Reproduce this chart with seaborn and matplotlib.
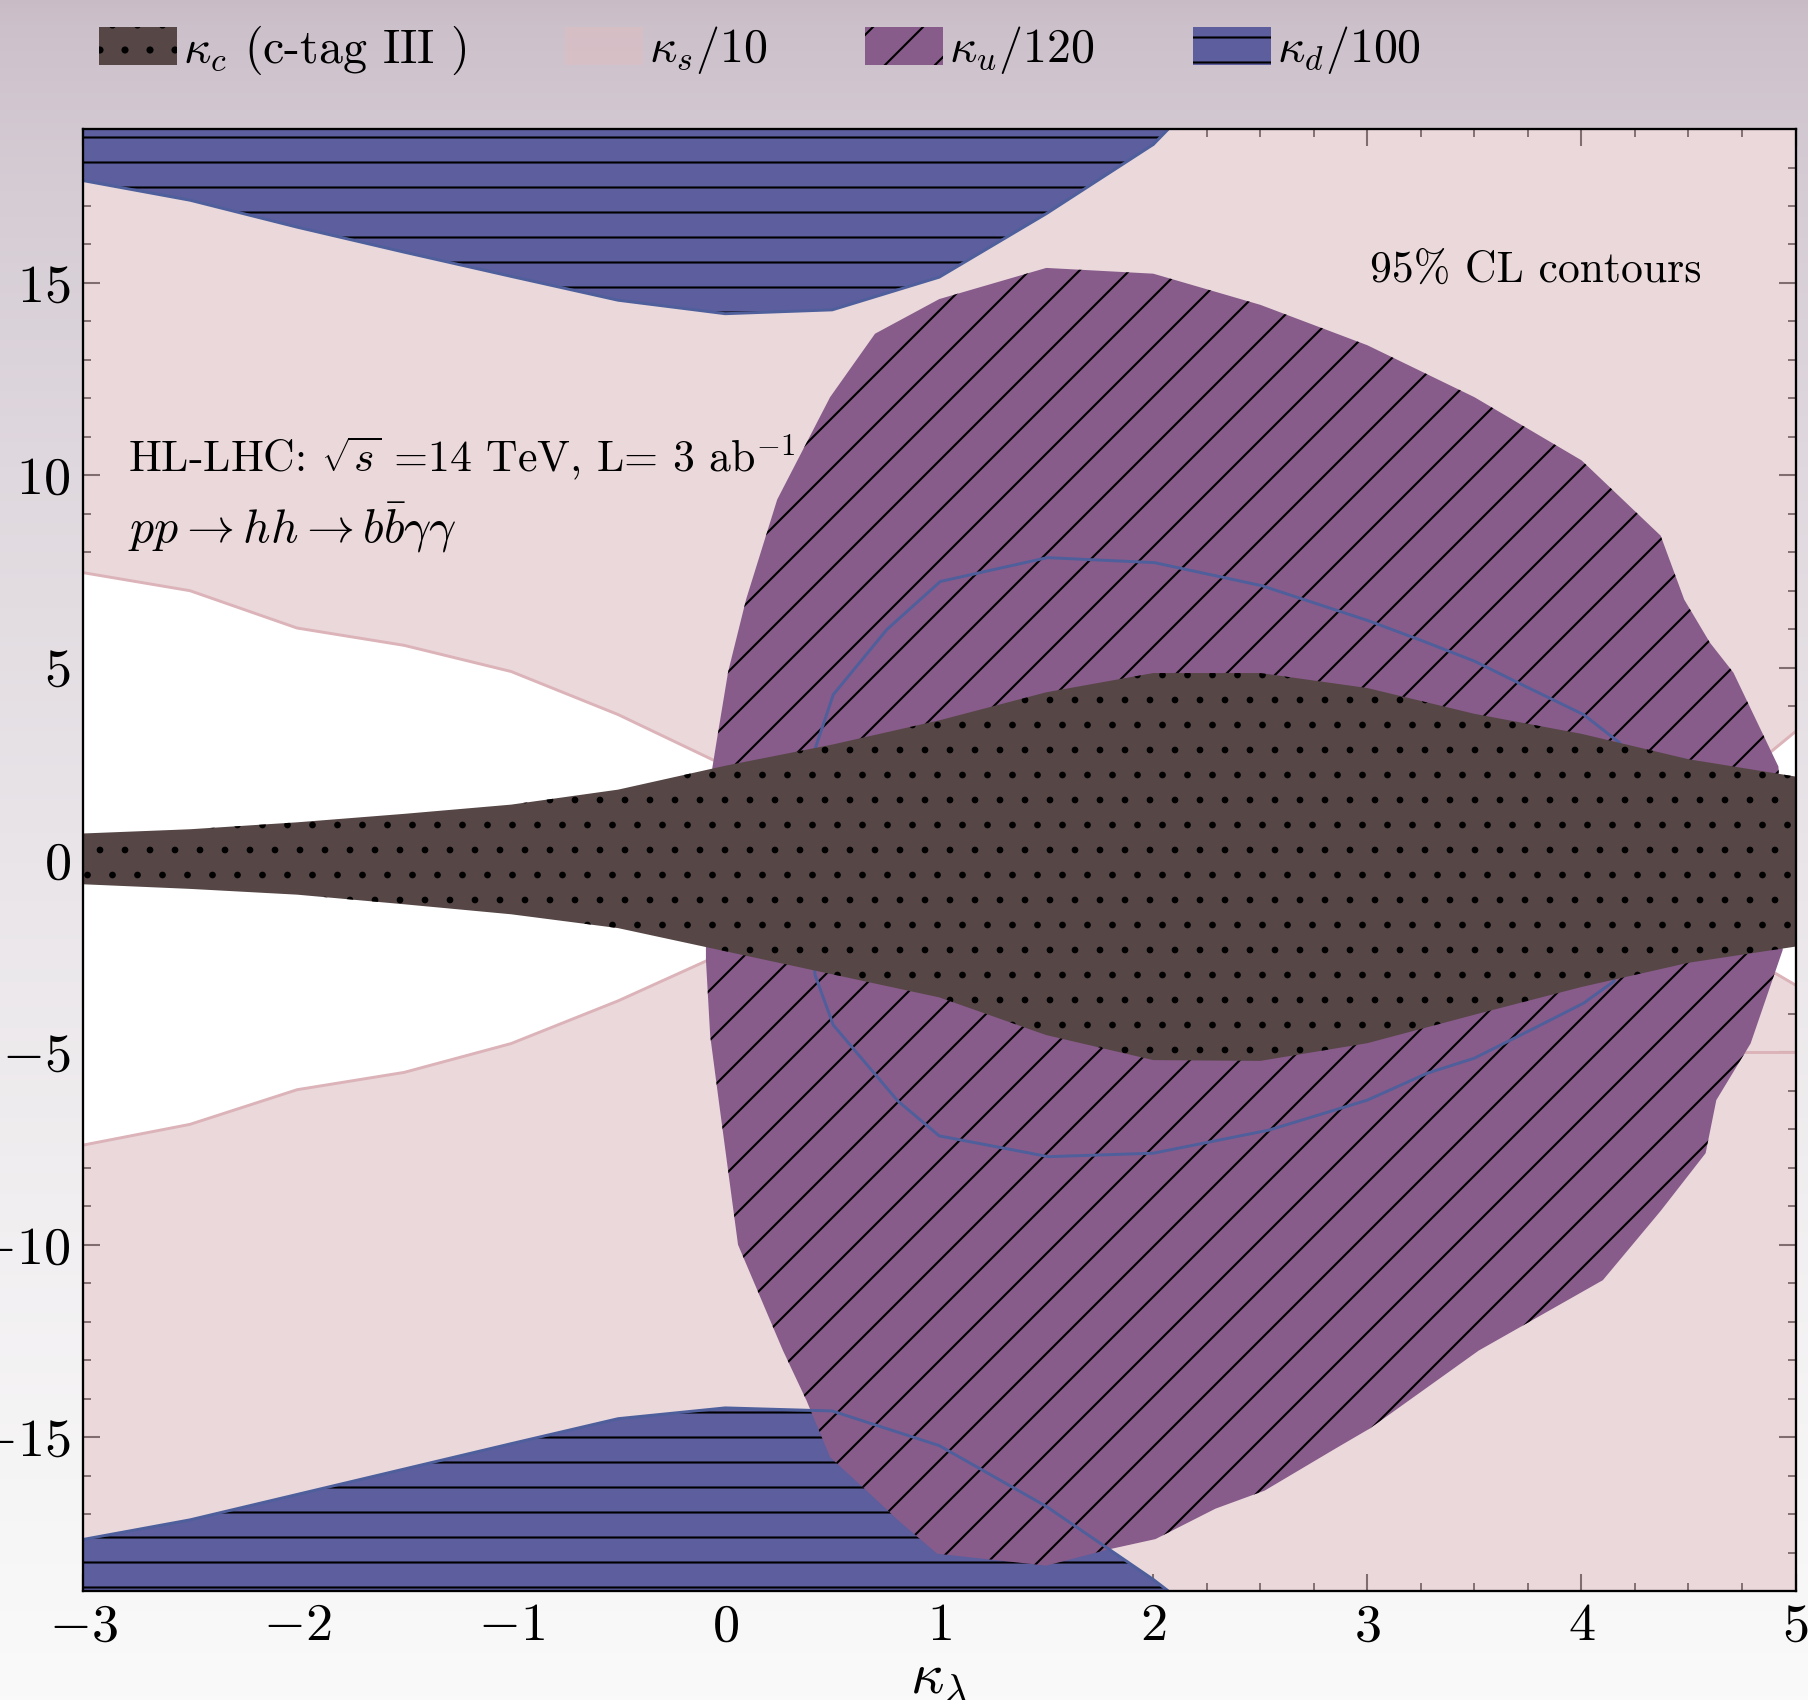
import numpy as np
import pandas as pd
import matplotlib
matplotlib.use("Agg")
import matplotlib.pyplot as plt
import matplotlib.ticker as ticker
import seaborn as sns

# values (x = kappa_lambda, y = coupling ratio)

# kappa_c (c-tag III) band
kc_x = [-3, -2.5, -2, -1.5, -1, -0.5, 0, 0.5, 1, 1.5, 2, 2.5, 3, 3.5, 4, 4.5, 5]
kc_upper = [0.69, 0.8, 0.98, 1.2, 1.44, 1.83, 2.45, 3.0, 3.63, 4.36, 4.86, 4.86, 4.47, 3.8, 3.28, 2.62, 2.17]
kc_lower = [-0.63, -0.75, -0.9, -1.15, -1.41, -1.77, -2.37, -2.97, -3.57, -4.55, -5.2, -5.22, -4.76, -4.02, -3.3, -2.67, -2.25]

# kappa_s/10 allowed everywhere except two holes
ks_x = [-3, 5]
ks_lo = [-19, -19]
ks_hi = [19, 19]
ks_hole_l_x = [-3, -2.5, -2, -1.5, -1, -0.5, 0, 0.4]
ks_hole_l_up = [7.47, 7.0, 6.03, 5.58, 4.9, 3.78, 2.45, 0.8]
ks_hole_l_lo = [-7.41, -6.87, -5.97, -5.52, -4.77, -3.66, -2.4, -0.8]
ks_hole_r_x = [4.6, 4.88, 5.0]
ks_hole_r_up = [1.6, 2.79, 3.34]
ks_hole_r_lo = [-1.6, -2.86, -3.25]
ks_seg_x = [4.76, 5.0]
ks_seg_y = [-5.0, -5.0]

# kappa_u/120 region (closed contour)
ku_x = [-0.09, -0.06, -0.037, 0.014, 0.098, 0.243, 0.49, 0.7, 1.0, 1.5, 2.0, 2.5, 3.0, 3.5,
        4.0, 4.37, 4.48, 4.6, 4.71, 4.92, 4.95, 4.94, 4.79, 4.63, 4.58, 4.37, 4.1, 3.52,
        3.01, 2.85, 2.52, 2.29, 2.01, 1.79, 1.5, 0.99, 0.81, 0.66, 0.49, 0.38, 0.27, 0.06,
        -0.03, -0.07, -0.09]
ku_y = [0, 2.4, 3.19, 4.9, 6.78, 9.37, 12.03, 13.68, 14.58, 15.39, 15.24, 14.43, 13.38, 12.03,
        10.39, 8.43, 6.77, 5.65, 4.87, 2.43, 0, -2.34, -4.77, -6.24, -7.62, -9.12, -10.92, -12.75,
        -14.78, -15.3, -16.39, -16.86, -17.65, -17.92, -18.34, -18.03, -17.17, -16.39, -15.52, -14.05, -12.75, -10.0,
        -6.26, -4.57, -2.59]

# kappa_d/100 regions (top and bottom) plus an inner contour line
kd_x = [-3, -2.5, -2, -1.5, -1, -0.5, 0, 0.5, 1, 1.5, 2, 2.07]
kd_top_edge = [17.66, 17.15, 16.45, 15.8, 15.17, 14.55, 14.2, 14.3, 15.15, 16.8, 18.6, 19.0]
kd_bot_edge = [-17.66, -17.15, -16.49, -15.83, -15.17, -14.52, -14.24, -14.32, -15.22, -16.8, -18.7, -19.0]
kd_loop_x = [0.38, 0.42, 0.505, 0.755, 1.005, 1.505, 2.005, 2.507, 3.01, 3.26, 3.5, 3.74, 4.01, 4.18, 4.35,
             4.15, 4.01, 3.78, 3.5, 3.28, 3.0, 2.54, 2.0, 1.51, 1.0, 0.806, 0.505, 0.42, 0.38]
kd_loop_y = [0, 2.89, 4.3, 5.99, 7.24, 7.86, 7.73, 7.13, 6.21, 5.69, 5.17, 4.51, 3.78, 3.04, 0,
             -3.16, -3.72, -4.37, -5.15, -5.54, -6.24, -7.02, -7.62, -7.71, -7.17, -6.26, -4.29, -2.99, 0]

labels = [r"$\kappa_c$ (c-tag III )", r"$\kappa_s/10$", r"$\kappa_u/120$", r"$\kappa_d/100$"]

brown = "#564646"
pink = "#dcbdc1"
pink_line = "#dbb3b8"
purple = "#875b8a"
blue = "#5c5e9e"
blue_line = "#4e5f9c"


def lines_df(segments):
    rows = []
    for i, (xs, ys) in enumerate(segments):
        for xv, yv in zip(xs, ys):
            rows.append({"x": xv, "y": yv, "seg": i})
    return pd.DataFrame(rows)


sns.set_theme(style="ticks")
plt.rcParams["font.family"] = ["cmr10"]
plt.rcParams["mathtext.fontset"] = "cm"
plt.rcParams["axes.formatter.use_mathtext"] = True
plt.rcParams["hatch.linewidth"] = 1.0
plt.rcParams["hatch.color"] = "black"
for k in ["text.color", "axes.labelcolor", "xtick.color", "ytick.color", "axes.edgecolor"]:
    plt.rcParams[k] = "black"

fig = plt.figure(figsize=(1808 / 150, 1700 / 150), dpi=150)

# soft vertical gradient behind the figure
bg = fig.add_axes([0, 0, 1, 1], zorder=-10)
t = np.linspace(0, 1, 400)[:, None] ** 0.6
top_c = np.array([200, 187, 198]) / 255
bot_c = np.array([250, 250, 250]) / 255
bg.imshow(top_c + (bot_c - top_c) * t[..., None], aspect="auto", extent=[0, 1, 0, 1], origin="upper")
bg.axis("off")

ax = fig.add_axes([0.0459, 0.0641, 0.9472, 0.86])
ax.set_facecolor("white")

# kappa_s
h_s = ax.fill_between(ks_x, ks_lo, ks_hi, color=pink, alpha=0.58, lw=0, zorder=1)
ax.fill_between(ks_hole_l_x, ks_hole_l_lo, ks_hole_l_up, color="white", lw=0, zorder=1.1)
ax.fill_between(ks_hole_r_x, ks_hole_r_lo, ks_hole_r_up, color="white", lw=0, zorder=1.1)
pink_edges = lines_df([(ks_hole_l_x, ks_hole_l_up), (ks_hole_l_x, ks_hole_l_lo),
                       (ks_hole_r_x, ks_hole_r_up), (ks_hole_r_x, ks_hole_r_lo),
                       (ks_seg_x, ks_seg_y)])
sns.lineplot(data=pink_edges, x="x", y="y", units="seg", estimator=None, sort=False,
             color=pink_line, lw=1.4, ax=ax, zorder=1.2)

# kappa_d
h_d = ax.fill_between(kd_x, kd_top_edge, 19, facecolor=blue, edgecolor="black", lw=0,
                      hatch="-", zorder=2)
ax.fill_between(kd_x, -19, kd_bot_edge, facecolor=blue, edgecolor="black", lw=0,
                hatch="-", zorder=2)

# kappa_u
h_u = ax.fill(ku_x, ku_y, facecolor=purple, edgecolor="black", lw=0, hatch="/", zorder=3)[0]

blue_edges = lines_df([(kd_x, kd_top_edge), (kd_x, kd_bot_edge), (kd_loop_x, kd_loop_y)])
sns.lineplot(data=blue_edges, x="x", y="y", units="seg", estimator=None, sort=False,
             color=blue_line, lw=1.4, ax=ax, zorder=3.5)

# kappa_c
h_c = ax.fill_between(kc_x, kc_lower, kc_upper, facecolor=brown, edgecolor="black", lw=0,
                      hatch=".", zorder=4)
if hasattr(h_c, "set_hatch_linewidth"):
    h_c.set_hatch_linewidth(0.8)

ax.set_xlim(-3, 5)
ax.set_ylim(-19, 19)
ax.xaxis.set_major_locator(ticker.MultipleLocator(1))
ax.xaxis.set_minor_locator(ticker.MultipleLocator(0.25))
ax.yaxis.set_major_locator(ticker.MultipleLocator(5))
ax.yaxis.set_minor_locator(ticker.MultipleLocator(1))
ax.tick_params(which="both", direction="in", top=True, right=True, labelsize=26, pad=6)
ax.tick_params(which="major", length=8, width=1.0)
ax.tick_params(which="minor", length=4, width=0.9)
for sp in ax.spines.values():
    sp.set_linewidth(1.1)
    sp.set_zorder(10)

ax.set_xlabel(r"$\kappa_\lambda$", fontsize=28, labelpad=2)
ax.set_ylabel("")

ax.text(3.01, 15.04, "95% CL contours", fontsize=21, zorder=6)
ax.text(-2.79, 10.07, r"HL-LHC: $\sqrt{s}$ =14 TeV, L= 3 ab$^{-1}$", fontsize=21, zorder=6)
ax.text(-2.79, 8.25, r"$pp \to hh \to b\bar{b}\gamma\gamma$", fontsize=23, zorder=6)

fig.legend([h_c, h_s, h_u, h_d], labels, loc="center left", bbox_to_anchor=(0.0548, 0.9706),
           ncol=4, frameon=False, fontsize=23, handlelength=1.63, handleheight=0.86,
           handletextpad=0.125, columnspacing=2.05, borderpad=0, borderaxespad=0)

fig.savefig("out.png", dpi=150)
